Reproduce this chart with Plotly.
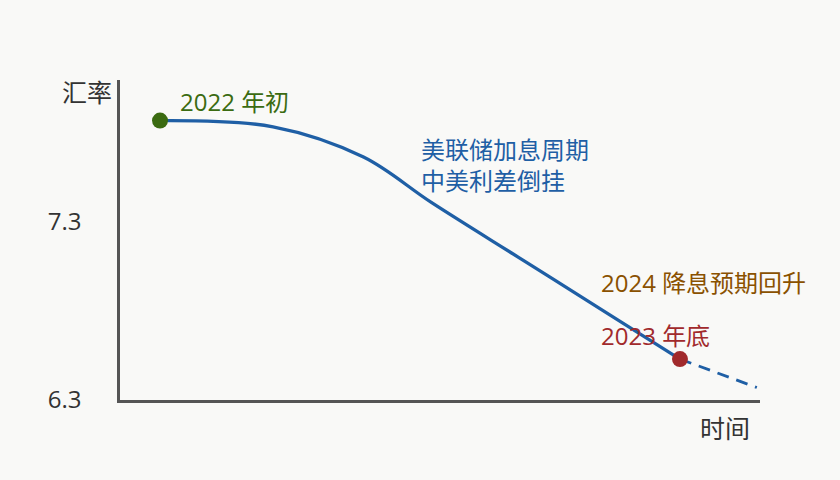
import plotly.graph_objects as go

# 数据：横轴为自 2022 年初起的月份，纵轴为汇率
months = [0, 5, 9, 12, 16, 20, 23]
rate = [7.87, 7.835, 7.665, 7.41, 7.09, 6.77, 6.53]
proj_months = [23, 26.4]
proj_rate = [6.53, 6.37]
y_ticks = [6.3, 7.3]
y_tick_text = ['6.3', '7.3']

line_blue = '#1f5fa5'
axis_grey = '#555555'
bg = '#f9f9f7'
font_main = 'Open Sans, Noto Sans CJK SC'

fig = go.Figure()

# 主线
fig.add_trace(go.Scatter(
    x=months, y=rate, mode='lines',
    line=dict(color=line_blue, width=3.3, shape='spline', smoothing=1.0),
    hoverinfo='skip'
))

# 2024 预期：虚线
fig.add_trace(go.Scatter(
    x=proj_months, y=proj_rate, mode='lines',
    line=dict(color=line_blue, width=2.8, dash='12px,8px'),
    hoverinfo='skip'
))

# 起点与终点
fig.add_trace(go.Scatter(
    x=[months[0]], y=[rate[0]], mode='markers',
    marker=dict(color='#3b6b11', size=16), hoverinfo='skip'
))
fig.add_trace(go.Scatter(
    x=[months[-1]], y=[rate[-1]], mode='markers',
    marker=dict(color='#a12a2c', size=16), hoverinfo='skip'
))

# 文字标注
notes = [
    dict(x=0.8, y=7.98, text='2022 年初', color='#3b6b11'),
    dict(x=11.45, y=7.62, text='美联储加息周期<br>中美利差倒挂', color=line_blue),
    dict(x=19.4, y=6.963, text='2024 降息预期回升', color='#8a5100'),
    dict(x=19.4, y=6.66, text='2023 年底', color='#a12a2c'),
]
for n in notes:
    fig.add_annotation(
        x=n['x'], y=n['y'], text=n['text'], showarrow=False,
        xanchor='left', yanchor='middle', align='left',
        font=dict(color=n['color'], size=24, family=font_main)
    )

# 坐标轴名称
fig.add_annotation(
    x=0, y=0.9625, xref='paper', yref='paper', text='汇率', showarrow=False,
    xanchor='right', yanchor='middle', xshift=-6,
    font=dict(color='#333333', size=25, family=font_main)
)
fig.add_annotation(
    x=1, y=-0.0875, xref='paper', yref='paper', text='时间', showarrow=False,
    xanchor='right', yanchor='middle', xshift=-8,
    font=dict(color='#333333', size=25, family=font_main)
)

fig.update_layout(
    width=840,
    height=480,
    margin=dict(l=120, r=80, t=80, b=80),
    paper_bgcolor=bg,
    plot_bgcolor=bg,
    showlegend=False,
    font=dict(family=font_main),
    xaxis=dict(
        range=[-1.77, 26.54], showgrid=False, zeroline=False,
        showticklabels=False, ticks='',
        showline=True, linecolor=axis_grey, linewidth=2.5
    ),
    yaxis=dict(
        range=[6.3, 8.098], showgrid=False, zeroline=False,
        tickvals=y_ticks, ticktext=y_tick_text, ticks='',
        ticklabelstandoff=31,
        tickfont=dict(size=24, color='#333333', family=font_main),
        showline=True, linecolor=axis_grey, linewidth=2.5
    )
)

# 去掉页面默认边距，让背景铺满
fig.write_html(
    'out.html',
    config={'displayModeBar': False},
    post_script="document.body.style.margin='0';"
                "document.body.style.background='" + bg + "';"
)
